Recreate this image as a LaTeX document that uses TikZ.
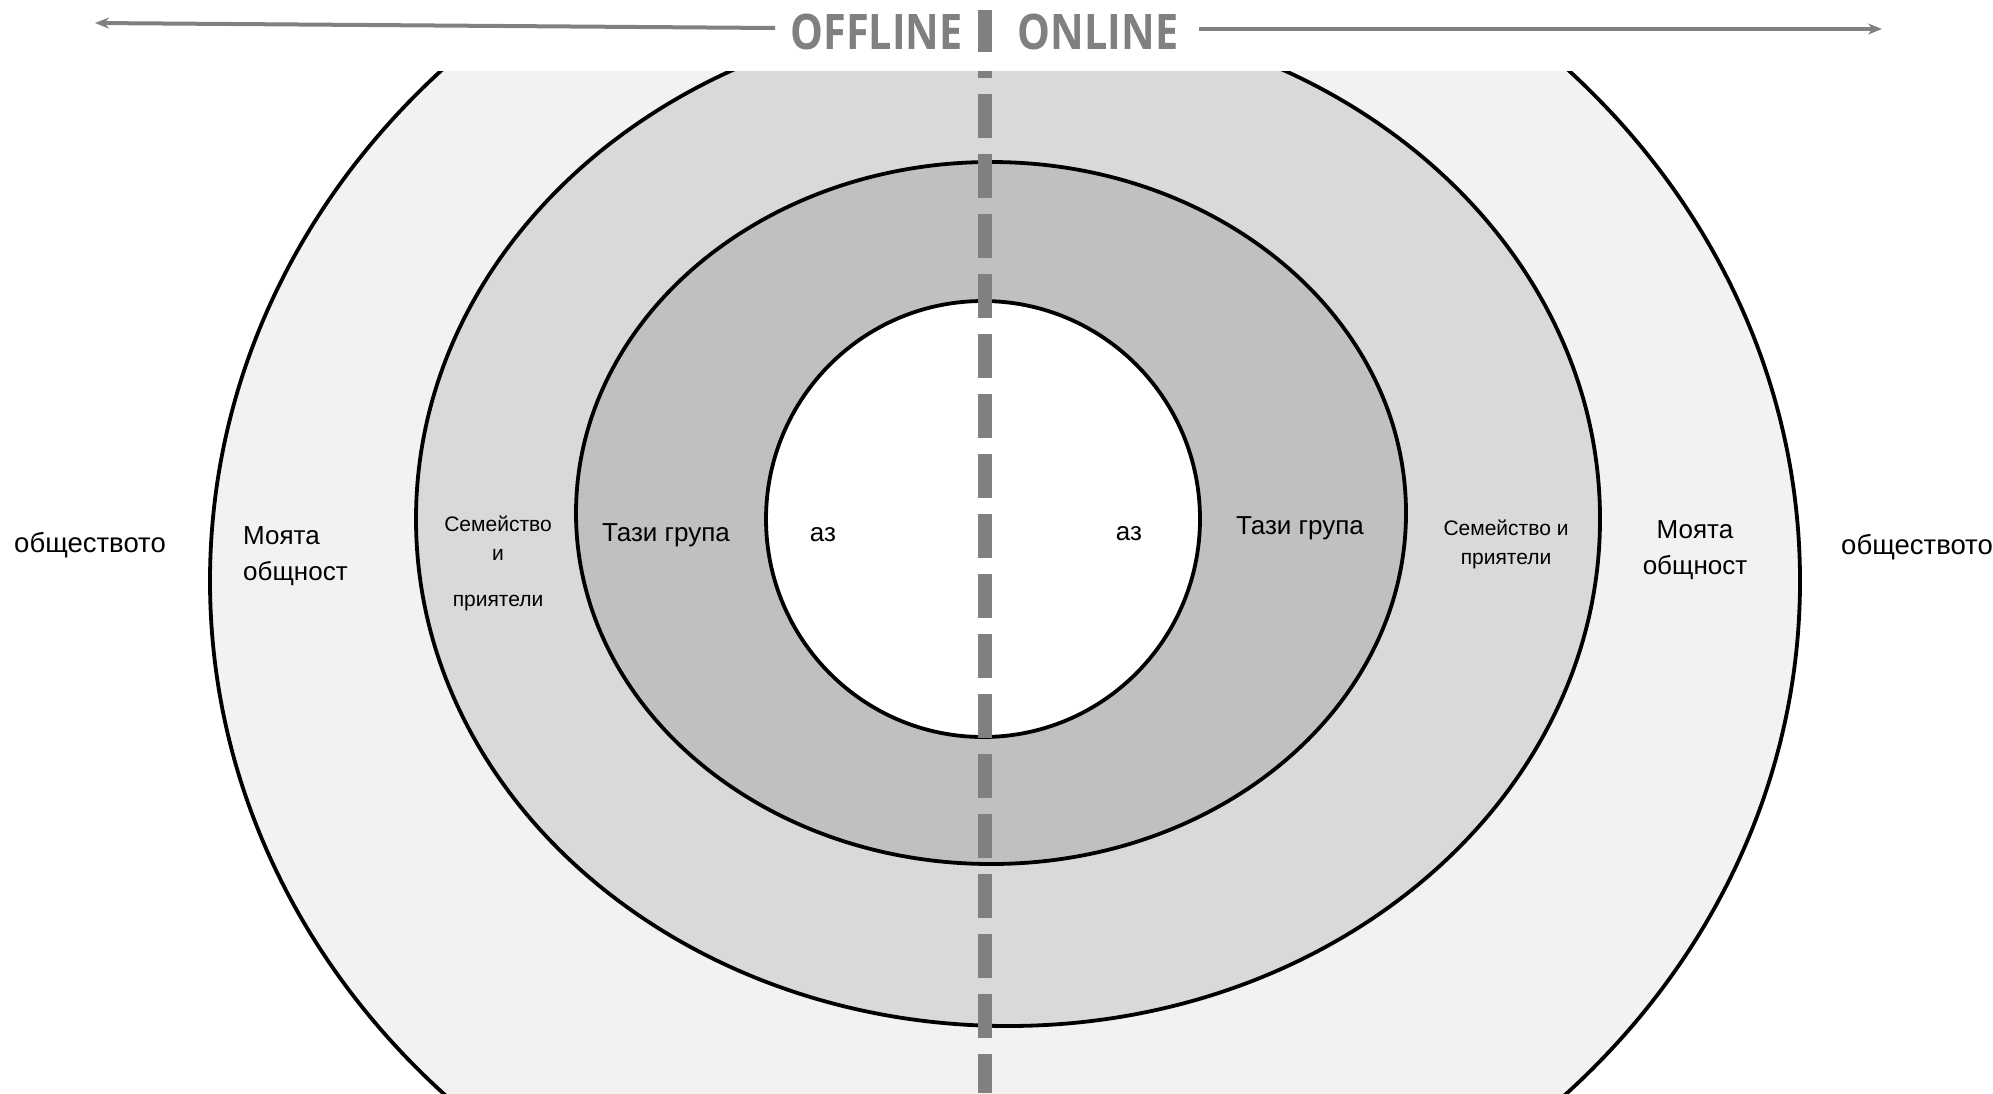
\documentclass[tikz,border=0pt]{standalone}
\usepackage{fontspec}
\setmainfont{Liberation Sans}
\newfontfamily\titlefont{Open Sans}
\usetikzlibrary{arrows.meta}
\definecolor{ringA}{HTML}{F2F2F2}
\definecolor{ringB}{HTML}{D9D9D9}
\definecolor{ringC}{HTML}{C0C0C0}
\definecolor{axisgray}{HTML}{808080}
\begin{document}
\begin{tikzpicture}[x=1pt,y=-1pt,
  ring/.style={draw=black,line width=3.8pt},
  lbl/.style={font=\fontsize{26}{36}\selectfont,inner sep=0pt},
  biglbl/.style={font=\fontsize{27.5}{36}\selectfont,inner sep=0pt},
  smalllbl/.style={font=\fontsize{21}{29}\selectfont,inner sep=0pt},
  titlelbl/.style={font=\titlefont\bfseries\fontsize{49}{50}\selectfont,text=axisgray,inner sep=0pt,anchor=base},
  axisline/.style={draw=axisgray,line width=4pt},
  tip/.style={-{Stealth[length=14pt,width=11pt]}}]
\useasboundingbox (0,0) rectangle (1993,1093);
\fill[white] (0,0) rectangle (1993,1093);
\begin{scope}
\clip (0,71) rectangle (1993,1093);
\path[ring,fill=ringA] (1005,581) ellipse [x radius=795pt,y radius=724pt];
\path[ring,fill=ringB] (1008,519) ellipse [x radius=592pt,y radius=507pt];
\path[ring,fill=ringC] (991,513) ellipse [x radius=415pt,y radius=351pt];
\path[ring,fill=white] (983,519) ellipse [x radius=217pt,y radius=218pt];
\end{scope}
\coordinate (dtop) at (985,71);
\coordinate (dbot) at (985,1093);
\draw[axisgray,line width=14pt,dash pattern=on 44pt off 16pt,dash phase=37pt] (dtop) -- (dbot);
\fill[axisgray] (978,10) rectangle (992,52);
\node[titlelbl] (off) at (876.5,49) {\scalebox{0.845}[1]{OFFLINE}};
\node[titlelbl] (on) at (1098,49) {\scalebox{0.845}[1]{ONLINE}};
\coordinate (aLs) at (775,28);
\coordinate (aLe) at (95,23);
\coordinate (aRs) at (1199,29);
\coordinate (aRe) at (1882,29);
\draw[axisline,tip] (aLs) -- (aLe);
\draw[axisline,tip] (aRs) -- (aRe);
\node[biglbl,anchor=base] (socL) at (90,552) {обществото};
\node[biglbl,anchor=base] (socR) at (1917,554) {обществото};
\node[lbl,align=left,anchor=west] (comL) at (243,556) {Моята\\общност};
\node[lbl,align=center] (comR) at (1695,550) {Моята\\общност};
\node[smalllbl,align=center] (famL) at (498,563) {Семейство\\и\\[17pt]приятели};
\node[smalllbl,align=center] (famR) at (1506,544) {Семейство и\\приятели};
\node[lbl,anchor=base] (grpL) at (666,541) {Тази група};
\node[lbl,anchor=base] (grpR) at (1300,534) {Тази група};
\node[lbl,anchor=base] (meL) at (823,541) {аз};
\node[lbl,anchor=base] (meR) at (1129,540) {аз};
\end{tikzpicture}
\end{document}
